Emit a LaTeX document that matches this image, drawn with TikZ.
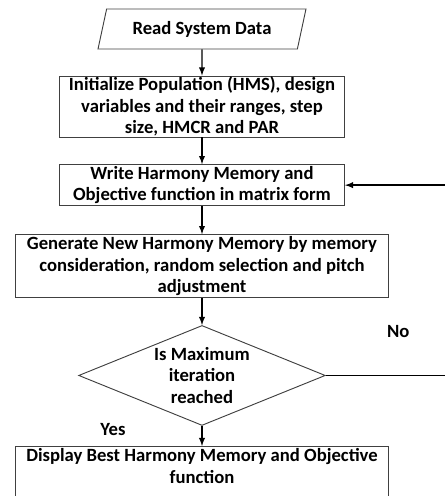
\documentclass[tikz,border=0pt]{standalone}
\usepackage{fontspec}
\setmainfont{Carlito}
\usetikzlibrary{shapes.geometric, arrows}
\definecolor{boxgray}{HTML}{404040}
\tikzstyle{io} = [trapezium, trapezium left angle=75, trapezium right angle=105, trapezium stretches=true, minimum width=156pt, minimum height=30pt, text centered, draw=boxgray, line width=0.7pt]
\tikzstyle{process} = [rectangle, inner sep=0pt, align=center, draw=boxgray, line width=0.7pt]
\tikzstyle{decision} = [diamond, aspect=2.47, minimum width=185pt, minimum height=75pt, inner sep=0pt, align=center, draw=boxgray, line width=0.7pt]
\tikzstyle{arrow} = [line width=1.1pt,->,>=latex]

\begin{document}
\begin{tikzpicture}[node distance=59pt, font=\fontsize{14}{16.2}\selectfont\bfseries]
    \useasboundingbox (-151.5pt,21.75pt) rectangle (182.25pt,-350.25pt);
    % Nodes
    \node (read) [io] {Read System Data};
    \node (init) [process, below of=read, yshift=0.9pt, minimum width=213.75pt, minimum height=45.75pt] {Initialize Population (HMS), design\\variables and their ranges, step\\size, HMCR and PAR};
    \node (write) [process, below of=init, minimum width=213.75pt, minimum height=30.75pt] {Write Harmony Memory and\\Objective function in matrix form};
    \node (gen) [process, below of=write, yshift=-1.75pt, minimum width=279.75pt, minimum height=47.25pt] {Generate New Harmony Memory by memory\\consideration, random selection and pitch\\adjustment};
    \node (maxit) [decision, below of=gen, yshift=-23pt] {Is Maximum\\iteration\\reached};
    \node (best) [process, below of=maxit, yshift=-13.4pt, minimum width=279.75pt, minimum height=38.25pt] {Display Best Harmony Memory and Objective\\function\rule[-9pt]{0pt}{9pt}};
    \coordinate (back) at (183.5pt,0);

    % Arrows
    \draw [arrow] (read) -- (init);
    \draw [arrow] (init) -- (write);
    \draw [arrow] (write) -- (gen);
    \draw [arrow] (gen) -- (maxit);
    \draw [arrow] (maxit) -- node[pos=0.2, xshift=-66.75pt] {Yes} (best);
    \draw [arrow] (maxit.east) -- node[pos=0.6, yshift=33pt] {No} (maxit.east -| back) |- (write.east);
\end{tikzpicture}
\end{document}
